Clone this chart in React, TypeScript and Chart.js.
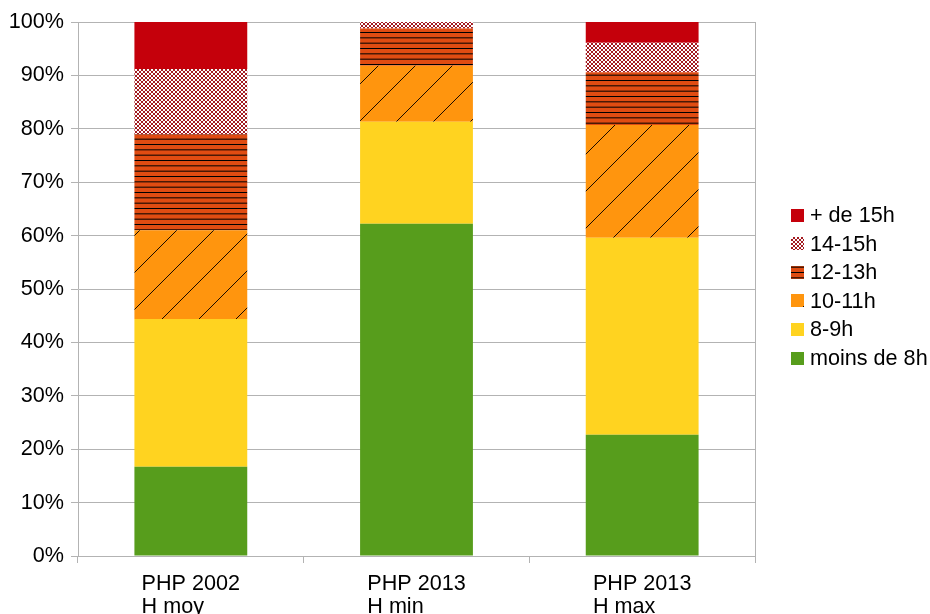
import React, { useEffect, useRef } from "react";
import { Chart, registerables } from "chart.js";

Chart.register(...registerables);

const categories: string[][] = [
  ["PHP 2002", "H moy"],
  ["PHP 2013", "H min"],
  ["PHP 2013", "H max"],
];
const seriesNames = ["moins de 8h", "8-9h", "10-11h", "12-13h", "14-15h", "+ de 15h"];
const moins8 = [16.7, 62.2, 22.7];
const h8to9 = [27.7, 19.1, 36.9];
const h10to11 = [16.6, 10.5, 21.1];
const h12to13 = [18.0, 7.0, 9.9];
const h14to15 = [12.2, 1.2, 5.5];
const plus15 = [8.8, 0, 3.9];
const yTicks = [0, 10, 20, 30, 40, 50, 60, 70, 80, 90, 100];

const FONT = "'Liberation Sans', Arial, sans-serif";
const GRID = "#b3b3b3";

function makeTile(w: number, h: number, draw: (c: CanvasRenderingContext2D) => void) {
  const c = document.createElement("canvas");
  c.width = w;
  c.height = h;
  const cx = c.getContext("2d")!;
  draw(cx);
  return cx.createPattern(c, "repeat")!;
}

export default function App() {
  const ref = useRef<HTMLCanvasElement | null>(null);

  useEffect(() => {
    if (!ref.current) return;

    const checker = makeTile(4, 4, (c) => {
      c.fillStyle = "#ffffff";
      c.fillRect(0, 0, 4, 4);
      c.fillStyle = "#a31a20";
      const pts = [
        [0, 0], [1, 1], [2, 2], [3, 3], [3, 0], [2, 1], [1, 2], [0, 3],
      ];
      pts.forEach(([x, y]) => c.fillRect(x, y, 1, 1));
    });
    const hLines = makeTile(16, 16, (c) => {
      c.fillStyle = "#e04c12";
      c.fillRect(0, 0, 16, 16);
      c.fillStyle = "#000000";
      for (let k = 0; k < 3; k++) c.fillRect(0, (k * 16) / 3, 16, 1);
    });
    const diag = makeTile(37, 37, (c) => {
      c.fillStyle = "#ff950e";
      c.fillRect(0, 0, 37, 37);
      c.strokeStyle = "#1a0a00";
      c.lineWidth = 1;
      c.beginPath();
      c.moveTo(-2, 39);
      c.lineTo(39, -2);
      c.stroke();
    });

    const colors: (string | CanvasPattern)[] = ["#579d1c", "#ffd320", diag, hLines, checker, "#c5000b"];
    const values = [moins8, h8to9, h10to11, h12to13, h14to15, plus15];

    const legendPlugin = {
      id: "sideLegend",
      afterDraw(chart: any) {
        const { ctx, chartArea } = chart;
        const n = chart.data.datasets.length;
        const spacing = 28.6;
        const box = 13;
        const x = chartArea.right + 36;
        const centerY = (chartArea.top + chartArea.bottom) / 2 - 2.5;
        const first = centerY - ((n - 1) / 2) * spacing;
        ctx.save();
        ctx.font = `21.6px ${FONT}`;
        ctx.textBaseline = "middle";
        ctx.textAlign = "left";
        for (let k = 0; k < n; k++) {
          const ds = chart.data.datasets[n - 1 - k];
          const cy = first + k * spacing;
          ctx.fillStyle = ds.backgroundColor;
          ctx.fillRect(x, Math.round(cy - box / 2), box, box);
          ctx.fillStyle = "#000000";
          ctx.fillText(ds.label, x + box + 6, cy + 1);
        }
        ctx.restore();

        // category labels: lines left-aligned, block centred under each bar
        const xs = chart.scales.x;
        ctx.save();
        ctx.font = `21.6px ${FONT}`;
        ctx.textBaseline = "alphabetic";
        ctx.textAlign = "left";
        ctx.fillStyle = "#000000";
        (chart.data.labels as string[][]).forEach((lines, i) => {
          const cx = xs.getPixelForValue(i);
          const w = Math.max(...lines.map((l) => ctx.measureText(l).width));
          const left = cx - w / 2;
          lines.forEach((l, j) => {
            ctx.fillText(l, left, chartArea.bottom + 34 + j * 23);
          });
        });
        ctx.restore();
      },
    };

    const chart = new Chart(ref.current, {
      type: "bar",
      data: {
        labels: categories,
        datasets: seriesNames.map((name, i) => ({
          label: name,
          data: values[i],
          backgroundColor: colors[i] as any,
          borderWidth: 0,
          barPercentage: 0.5,
          categoryPercentage: 1.0,
        })),
      },
      options: {
        animation: false,
        responsive: false,
        layout: { padding: { top: 22, right: 175, left: 0, bottom: 0 } },
        plugins: {
          legend: { display: false },
          tooltip: { enabled: false },
        },
        scales: {
          x: {
            stacked: true,
            offset: true,
            afterFit: (s: any) => {
              s.height = 58;
            },
            grid: {
              offset: true,
              drawOnChartArea: true,
              color: (c: any) =>
                c.index === undefined || c.index >= categories.length ? GRID : "rgba(0,0,0,0)",
              tickColor: GRID,
              tickLength: 7,
              lineWidth: 1,
            },
            border: { display: true, color: GRID },
            ticks: {
              display: false,
              autoSkip: false,
            },
          },
          y: {
            stacked: true,
            min: 0,
            max: 100,
            afterFit: (s: any) => {
              s.width = 78;
            },
            afterBuildTicks: (s: any) => {
              s.ticks = yTicks.map((v) => ({ value: v }));
            },
            grid: { color: GRID, tickColor: GRID, tickLength: 7, lineWidth: 1 },
            border: { display: true, color: GRID },
            ticks: {
              color: "#000000",
              font: { family: FONT, size: 21.6 },
              padding: 7,
              callback: (v: any) => `${v}%`,
            },
          },
        },
      },
      plugins: [legendPlugin],
    });

    return () => chart.destroy();
  }, []);

  return (
    <div style={{ position: "absolute", left: 0, top: 0, width: 930, height: 614 }}>
      <canvas ref={ref} width={930} height={614} style={{ display: "block" }} />
    </div>
  );
}
